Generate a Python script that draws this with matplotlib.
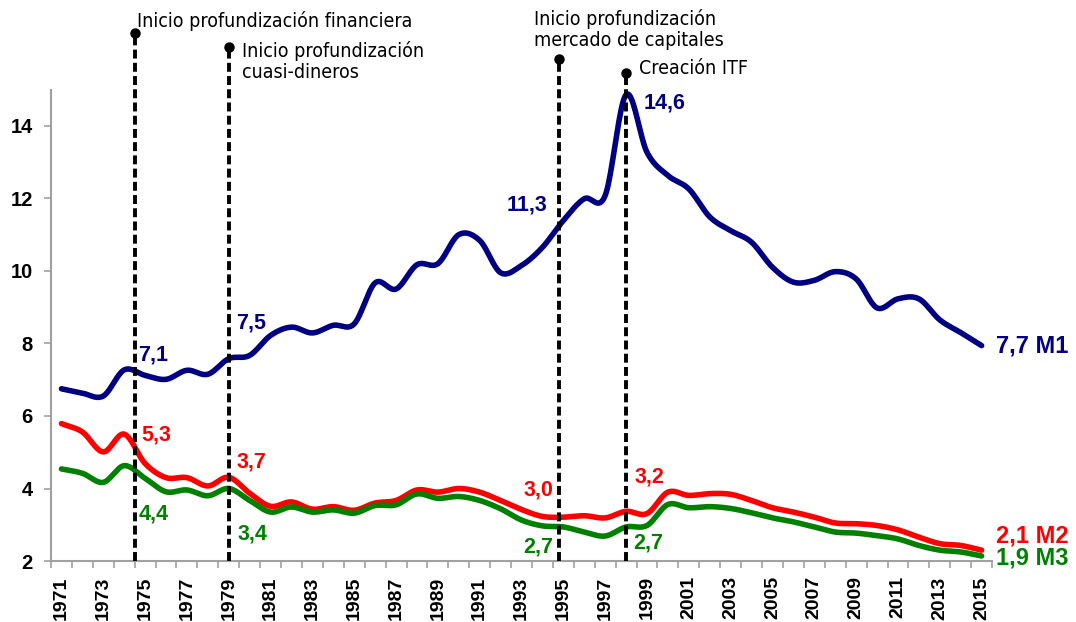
"""
M1, M2, M3 con hitos de profundizacion financiera (1971-2015)
"""

import numpy as np
import matplotlib
matplotlib.use("Agg")
import matplotlib.pyplot as plt

# --- DATA --- #
years = list(range(1971, 2016))

m1 = [6.75, 6.63, 6.55, 7.27, 7.12, 7.01, 7.26, 7.15, 7.58, 7.67,
      8.22, 8.45, 8.29, 8.50, 8.54, 9.67, 9.50, 10.17, 10.20, 11.00,
      10.84, 9.95, 10.15, 10.65, 11.39, 11.99, 12.08, 14.86, 13.27, 12.63,
      12.26, 11.49, 11.11, 10.79, 10.10, 9.69, 9.74, 9.98, 9.78, 8.98,
      9.23, 9.23, 8.65, 8.30, 7.94]

m2 = [5.79, 5.56, 5.01, 5.50, 4.69, 4.30, 4.30, 4.07, 4.31, 3.87,
      3.51, 3.63, 3.43, 3.50, 3.40, 3.60, 3.67, 3.96, 3.90, 4.00,
      3.90, 3.67, 3.42, 3.23, 3.21, 3.25, 3.19, 3.37, 3.31, 3.90,
      3.81, 3.86, 3.84, 3.67, 3.47, 3.35, 3.21, 3.05, 3.03, 2.98,
      2.86, 2.66, 2.48, 2.43, 2.30]

m3 = [4.54, 4.42, 4.17, 4.63, 4.28, 3.91, 3.96, 3.80, 4.00, 3.67,
      3.35, 3.49, 3.35, 3.41, 3.32, 3.53, 3.55, 3.85, 3.73, 3.78,
      3.67, 3.44, 3.13, 2.97, 2.94, 2.80, 2.69, 2.94, 2.98, 3.56,
      3.47, 3.50, 3.45, 3.33, 3.19, 3.08, 2.94, 2.80, 2.77, 2.70,
      2.61, 2.43, 2.30, 2.25, 2.14]

# hitos (vertical dashed lines)
event_x = [1974.5, 1979.0, 1994.8, 1998.0]
event_top = [16.57, 16.18, 15.83, 15.47]
event_text = ["Inicio profundización financiera",
              "Inicio profundización\ncuasi-dineros",
              "Inicio profundización\nmercado de capitales",
              "Creación ITF"]
event_text_pos = [(1974.61, 16.90), (1979.64, 15.77), (1993.61, 16.66), (1998.63, 15.58)]

# value labels: (text, x, y, ha)
m1_labels = [("7,1", 1974.66, 7.67, "left"), ("7,5", 1979.35, 8.56, "left"),
             ("11,3", 1994.25, 11.83, "right"), ("14,6", 1998.83, 14.62, "left")]
m2_labels = [("5,3", 1974.81, 5.47, "left"), ("3,7", 1979.35, 4.73, "left"),
             ("3,0", 1994.52, 3.96, "right"), ("3,2", 1998.40, 4.31, "left")]
m3_labels = [("4,4", 1974.71, 3.29, "left"), ("3,4", 1979.40, 2.74, "left"),
             ("2,7", 1994.52, 2.39, "right"), ("2,7", 1998.35, 2.50, "left")]
end_labels = [("7,7 M1", 7.92), ("2,1 M2", 2.69), ("1,9 M3", 2.08)]

NAVY = "#000080"
RED = "#FF0000"
GREEN = "#008000"
GRAY = "#A0A0A0"


# Excel-like smoothed line (Catmull-Rom through the points)
def smooth(x, y, n=20):
    x = np.asarray(x, float)
    y = np.asarray(y, float)
    px = np.concatenate([[2 * x[0] - x[1]], x, [2 * x[-1] - x[-2]]])
    py = np.concatenate([[2 * y[0] - y[1]], y, [2 * y[-1] - y[-2]]])
    xs, ys = [], []
    t = np.linspace(0, 1, n, endpoint=False)
    for i in range(1, len(px) - 2):
        for arr, out in ((px, xs), (py, ys)):
            p0, p1, p2, p3 = arr[i - 1], arr[i], arr[i + 1], arr[i + 2]
            out.append(0.5 * ((2 * p1) + (-p0 + p2) * t
                              + (2 * p0 - 5 * p1 + 4 * p2 - p3) * t ** 2
                              + (-p0 + 3 * p1 - 3 * p2 + p3) * t ** 3))
    xs.append([x[-1]])
    ys.append([y[-1]])
    return np.concatenate(xs), np.concatenate(ys)


plt.rcParams['font.family'] = ['Liberation Sans', 'DejaVu Sans']

fig = plt.figure(figsize=(10.76, 6.22), dpi=100)
ax = fig.add_axes([0.0474, 0.098, 0.8746, 0.758])

for series, color in ((m1, NAVY), (m2, RED), (m3, GREEN)):
    sx, sy = smooth(years, series)
    ax.plot(sx, sy, color=color, lw=4.0, solid_capstyle="round", zorder=3)

# event lines
for x, top in zip(event_x, event_top):
    ax.plot([x, x], [2, top], color="black", lw=2.8,
            linestyle=(0, (2.3, 1.1)), clip_on=False, zorder=4)
    ax.plot([x], [top], "o", color="black", ms=6.5, clip_on=False, zorder=5)

for txt, (tx, ty) in zip(event_text, event_text_pos):
    ax.text(tx, ty, txt, family="DejaVu Sans", fontstretch="condensed",
            fontsize=14, ha="left", va="center", linespacing=1.1, clip_on=False)

for labels, color in ((m1_labels, NAVY), (m2_labels, RED), (m3_labels, GREEN)):
    for txt, tx, ty, ha in labels:
        ax.text(tx, ty, txt, color=color, fontsize=15.5, fontweight="bold",
                ha=ha, va="center", clip_on=False)

for (txt, ty), color in zip(end_labels, (NAVY, RED, GREEN)):
    ax.text(2015.7, ty, txt, color=color, fontsize=17, fontweight="bold",
            ha="left", va="center", clip_on=False)

# axes
ax.set_xlim(1970.5, 2015.5)
ax.set_ylim(2, 15)
ax.set_yticks([2, 4, 6, 8, 10, 12, 14])
ax.set_yticklabels(["2", "4", "6", "8", "10", "12", "14"], fontsize=14.5, fontweight="bold")
odd_years = [y for y in years if y % 2 == 1]
ax.set_xticks(odd_years)
ax.set_xticklabels([str(y) for y in odd_years], rotation=90, fontsize=14, fontweight="bold")
ax.set_xticks(np.arange(1970.5, 2016, 1.0), minor=True)
ax.tick_params(axis="x", which="major", length=0, pad=11)
ax.tick_params(axis="x", which="minor", length=5, color=GRAY, width=1.2)
ax.tick_params(axis="y", length=5, color=GRAY, width=1.2, pad=8)

for side in ("top", "right"):
    ax.spines[side].set_visible(False)
for side in ("left", "bottom"):
    ax.spines[side].set_color(GRAY)
    ax.spines[side].set_linewidth(1.5)

fig.savefig("out.png", dpi=100)
